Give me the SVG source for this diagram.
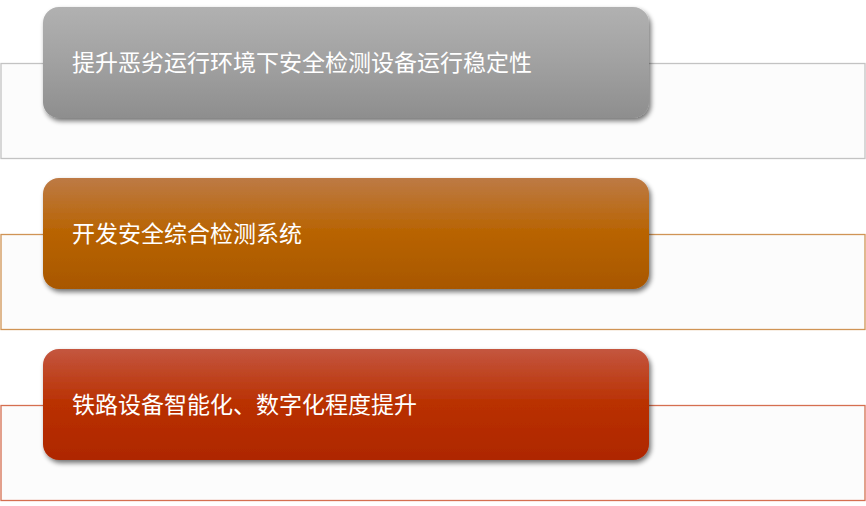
<svg xmlns="http://www.w3.org/2000/svg" width="866" height="506" viewBox="0 0 866 506">
<defs>
<linearGradient id="gGray" x1="0" y1="0" x2="0" y2="1">
<stop offset="0" stop-color="#b1b1b1"/>
<stop offset="0.5" stop-color="#a1a1a1"/>
<stop offset="1" stop-color="#8e8e8e"/>
</linearGradient>
<linearGradient id="gOrange" x1="0" y1="0" x2="0" y2="1">
<stop offset="0" stop-color="#bd7a45"/>
<stop offset="0.5" stop-color="#b86300"/>
<stop offset="1" stop-color="#a85700"/>
</linearGradient>
<linearGradient id="gRed" x1="0" y1="0" x2="0" y2="1">
<stop offset="0" stop-color="#c4563f"/>
<stop offset="0.5" stop-color="#b93000"/>
<stop offset="1" stop-color="#ae2700"/>
</linearGradient>
<filter id="sh" x="-5%" y="-10%" width="110%" height="130%">
<feGaussianBlur in="SourceAlpha" stdDeviation="2.5"/>
<feOffset dx="2" dy="3" result="b"/>
<feComponentTransfer><feFuncA type="linear" slope="0.55"/></feComponentTransfer>
<feMerge><feMergeNode/><feMergeNode in="SourceGraphic"/></feMerge>
</filter>
</defs>
<style>
.box{fill:#fcfcfc;stroke-width:1.3}
.pill{filter:url(#sh)}
.t{font-family:"Noto Sans CJK SC","Noto Sans",sans-serif;font-size:23px;fill:#ffffff}
</style>
<g id="connectors"></g>
<g id="node1">
<rect class="box" x="1" y="63.5" width="864" height="95" stroke="#c3c3c3"/>
<rect class="pill" x="43" y="7" width="606" height="111" rx="16" fill="url(#gGray)"/>
<text class="t" x="72" y="70.5">提升恶劣运行环境下安全检测设备运行稳定性</text>
</g>
<g id="node2">
<rect class="box" x="1" y="234.5" width="864" height="95" stroke="#d09455"/>
<rect class="pill" x="43" y="178" width="606" height="111" rx="16" fill="url(#gOrange)"/>
<text class="t" x="72" y="241.5">开发安全综合检测系统</text>
</g>
<g id="node3">
<rect class="box" x="1" y="405.5" width="864" height="95" stroke="#d56f50"/>
<rect class="pill" x="43" y="349" width="606" height="111" rx="16" fill="url(#gRed)"/>
<text class="t" x="72" y="412.5">铁路设备智能化、数字化程度提升</text>
</g>
</svg>
